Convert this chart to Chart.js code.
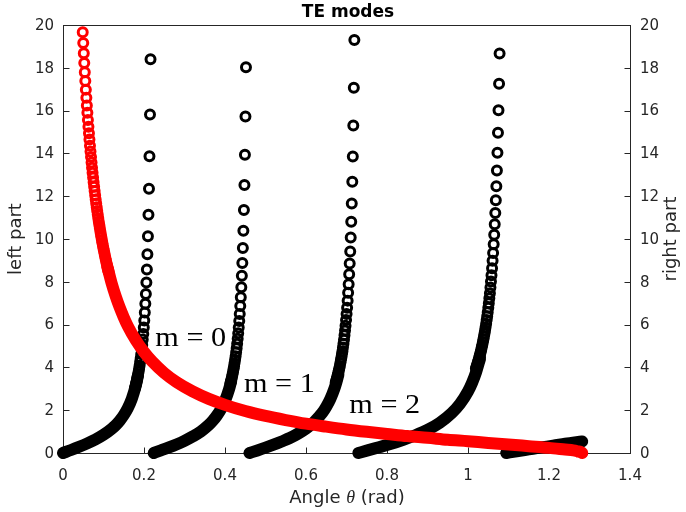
<!DOCTYPE html>
<html>
<head>
<meta charset="utf-8">
<script src="https://cdn.jsdelivr.net/npm/chart.js@4.4.1/dist/chart.umd.min.js"></script>
<style>
  html, body { margin: 0; padding: 0; background: #fff; }
  #wrap { width: 686px; height: 512px; }
</style>
</head>
<body>
<div id="wrap"><canvas id="teChart" width="686" height="512"></canvas></div>
<script>
// ---- values ----
// right part (red): separate rings at the top, then the solid band
var rightRingX = [0.0487, 0.0500, 0.0513, 0.0525, 0.0538, 0.0551, 0.0564, 0.0577, 0.0589, 0.0602,
  0.0615, 0.0628, 0.0641, 0.0653, 0.0666, 0.0679, 0.0692, 0.0705, 0.0717, 0.0730,
  0.0743, 0.0756, 0.0769, 0.0781, 0.0794, 0.0807, 0.0820, 0.0833, 0.0845, 0.0858,
  0.0871, 0.0884, 0.0897, 0.0909, 0.0922, 0.0935, 0.0948, 0.0961, 0.0973, 0.0986,
  0.0999, 0.1012, 0.1025, 0.1037, 0.1050, 0.1063, 0.1076, 0.1089, 0.1101, 0.1114, 0.1127];
var rightRingY = [19.66, 19.16, 18.68, 18.22, 17.79, 17.38, 16.98, 16.60, 16.24, 15.90,
  15.56, 15.24, 14.94, 14.65, 14.36, 14.09, 13.83, 13.58, 13.33, 13.10,
  12.87, 12.65, 12.44, 12.24, 12.04, 11.85, 11.66, 11.48, 11.31, 11.14,
  10.97, 10.81, 10.66, 10.51, 10.36, 10.22, 10.08, 9.94, 9.81, 9.68,
  9.56, 9.44, 9.32, 9.20, 9.09, 8.98, 8.87, 8.77, 8.66, 8.56, 8.46];
var rightBandX = [0.11, 0.12, 0.13, 0.14, 0.15, 0.16, 0.18, 0.20, 0.22, 0.25,
  0.28, 0.32, 0.36, 0.40, 0.45, 0.50, 0.55, 0.60, 0.65, 0.70,
  0.75, 0.80, 0.85, 0.90, 0.95, 1.00, 1.05, 1.10, 1.15, 1.20,
  1.24, 1.26, 1.27, 1.28, 1.282];
var rightBandY = [8.67, 7.94, 7.33, 6.80, 6.34, 5.93, 5.26, 4.72, 4.28, 3.74,
  3.32, 2.88, 2.53, 2.25, 1.96, 1.73, 1.54, 1.37, 1.23, 1.10,
  0.99, 0.89, 0.79, 0.71, 0.62, 0.55, 0.47, 0.40, 0.32, 0.24,
  0.16, 0.12, 0.08, 0.03, 0.00];

// left part (black), one branch per mode
var m0BandX = [0, 0.02, 0.04, 0.06, 0.08, 0.10, 0.12, 0.13, 0.14, 0.15, 0.16, 0.17, 0.18, 0.185];
var m0BandY = [0, 0.14, 0.29, 0.45, 0.63, 0.85, 1.13, 1.30, 1.51, 1.77, 2.10, 2.54, 3.17, 3.61];
var m0RingX = [0.2161, 0.2148, 0.2135, 0.2123, 0.2110, 0.2097, 0.2084, 0.2071, 0.2059, 0.2046,
  0.2033, 0.2020, 0.2007, 0.1995, 0.1982, 0.1969, 0.1956, 0.1943, 0.1931, 0.1918,
  0.1905, 0.1892, 0.1879, 0.1867, 0.1854, 0.1841, 0.1828, 0.1815, 0.1803, 0.1790, 0.1777];
var m0RingY = [18.40, 15.82, 13.87, 12.35, 11.13, 10.13, 9.29, 8.58, 7.97, 7.43,
  6.97, 6.56, 6.19, 5.86, 5.56, 5.30, 5.05, 4.83, 4.62, 4.43,
  4.26, 4.09, 3.94, 3.80, 3.67, 3.55, 3.43, 3.32, 3.22, 3.12, 3.03];

var m1BandX = [0.224, 0.24, 0.26, 0.28, 0.30, 0.32, 0.34, 0.36, 0.37, 0.38, 0.39, 0.40, 0.41, 0.415];
var m1BandY = [0, 0.11, 0.25, 0.40, 0.57, 0.77, 1.00, 1.31, 1.51, 1.75, 2.05, 2.44, 2.98, 3.34];
var m1RingX = [0.4518, 0.4505, 0.4492, 0.4480, 0.4467, 0.4454, 0.4441, 0.4428, 0.4416, 0.4403,
  0.4390, 0.4377, 0.4364, 0.4352, 0.4339, 0.4326, 0.4313, 0.4300, 0.4288, 0.4275,
  0.4262, 0.4249, 0.4236, 0.4224, 0.4211, 0.4198, 0.4185, 0.4172, 0.4160, 0.4147, 0.4134];
var m1RingY = [18.03, 15.72, 13.94, 12.52, 11.36, 10.39, 9.58, 8.88, 8.28, 7.75,
  7.28, 6.87, 6.50, 6.17, 5.86, 5.59, 5.34, 5.11, 4.90, 4.71,
  4.52, 4.36, 4.20, 4.05, 3.92, 3.79, 3.67, 3.55, 3.45, 3.35, 3.25];

var m2BandX = [0.4605, 0.48, 0.50, 0.52, 0.54, 0.56, 0.58, 0.60, 0.62, 0.64, 0.65, 0.66, 0.67, 0.675, 0.68];
var m2BandY = [0, 0.12, 0.25, 0.39, 0.54, 0.70, 0.90, 1.14, 1.45, 1.87, 2.16, 2.52, 3.00, 3.30, 3.66];
var m2RingX = [0.7194, 0.7181, 0.7168, 0.7156, 0.7143, 0.7130, 0.7117, 0.7104, 0.7092, 0.7079,
  0.7066, 0.7053, 0.7040, 0.7028, 0.7015, 0.7002, 0.6989, 0.6976, 0.6964, 0.6951,
  0.6938, 0.6925, 0.6912, 0.6900, 0.6887, 0.6874, 0.6861, 0.6848, 0.6836, 0.6823,
  0.6810, 0.6797, 0.6784, 0.6772, 0.6759, 0.6746, 0.6733];
var m2RingY = [19.30, 17.07, 15.30, 13.86, 12.67, 11.66, 10.81, 10.07, 9.42, 8.85,
  8.35, 7.89, 7.49, 7.12, 6.79, 6.49, 6.21, 5.95, 5.72, 5.50,
  5.29, 5.10, 4.93, 4.76, 4.61, 4.46, 4.33, 4.20, 4.07, 3.96,
  3.85, 3.75, 3.65, 3.55, 3.46, 3.38, 3.30];

var m3BandX = [0.7292, 0.75, 0.78, 0.81, 0.84, 0.87, 0.90, 0.93, 0.96, 0.98, 1.00, 1.01, 1.02, 1.03];
var m3BandY = [0, 0.11, 0.27, 0.43, 0.62, 0.83, 1.08, 1.41, 1.87, 2.29, 2.88, 3.28, 3.78, 4.43];
var m3RingX = [1.0780, 1.0767, 1.0753, 1.0740, 1.0727, 1.0714, 1.0700, 1.0687, 1.0674, 1.0660,
  1.0647, 1.0634, 1.0620, 1.0607, 1.0594, 1.0580, 1.0567, 1.0554, 1.0541, 1.0527,
  1.0514, 1.0501, 1.0487, 1.0474, 1.0461, 1.0448, 1.0434, 1.0421, 1.0408, 1.0394,
  1.0381, 1.0368, 1.0354, 1.0341, 1.0328, 1.0315, 1.0301, 1.0288, 1.0275, 1.0261,
  1.0248, 1.0235, 1.0221, 1.0208, 1.0195];
var m3RingY = [18.67, 17.25, 16.02, 14.96, 14.03, 13.20, 12.47, 11.81, 11.22, 10.69,
  10.20, 9.76, 9.35, 8.98, 8.63, 8.31, 8.01, 7.73, 7.47, 7.23,
  7.00, 6.79, 6.58, 6.39, 6.21, 6.04, 5.88, 5.73, 5.58, 5.44,
  5.31, 5.19, 5.06, 4.95, 4.84, 4.73, 4.63, 4.54, 4.44, 4.35,
  4.27, 4.18, 4.10, 4.02, 3.95];

var m4BandX = [1.0945, 1.12, 1.15, 1.18, 1.21, 1.24, 1.282];
var m4BandY = [0, 0.08, 0.17, 0.26, 0.34, 0.43, 0.54];

// annotations (x, baseline y in data units)
var modeLabels = ['m = 0', 'm = 1', 'm = 2'];
var modeLabelX = [0.228, 0.447, 0.707];
var modeLabelY = [4.99, 2.84, 1.85];

// ticks
var xTickVals = [0, 0.2, 0.4, 0.6, 0.8, 1, 1.2, 1.4];
var xTickLabels = ['0', '0.2', '0.4', '0.6', '0.8', '1', '1.2', '1.4'];
var yTickVals = [0, 2, 4, 6, 8, 10, 12, 14, 16, 18, 20];
var yTickLabels = ['0', '2', '4', '6', '8', '10', '12', '14', '16', '18', '20'];

var RED = '#ff0000';
var BLACK = '#000000';
var AXIS = '#262626';

function pts(xs, ys) {
  return xs.map(function (x, i) { return {x: x, y: ys[i]}; });
}

// open circle markers
function ringSet(xs, ys, color) {
  return {
    data: pts(xs, ys),
    showLine: false,
    pointStyle: 'circle',
    pointRadius: 4.5,
    pointHoverRadius: 4.5,
    pointBorderWidth: 3,
    pointBorderColor: color,
    pointBackgroundColor: 'rgba(0,0,0,0)',
    clip: false
  };
}

// where the markers are packed so tight they read as a solid band
function bandSet(xs, ys, color) {
  return {
    data: pts(xs, ys),
    showLine: true,
    borderColor: color,
    borderWidth: 12,
    borderCapStyle: 'round',
    borderJoinStyle: 'round',
    cubicInterpolationMode: 'monotone',
    pointRadius: 0,
    pointHoverRadius: 0,
    fill: false,
    clip: false
  };
}

var framePlugin = {
  id: 'frame',
  beforeDatasetsDraw: function (chart) {
    var ctx = chart.ctx;
    var a = chart.chartArea;
    var sx = chart.scales.x, sy = chart.scales.y;
    var L = Math.round(a.left) + 0.5, R = Math.round(a.right) + 0.5;
    var T = Math.round(a.top) + 0.5, B = Math.round(a.bottom) + 0.5;
    ctx.save();
    ctx.strokeStyle = AXIS;
    ctx.lineWidth = 1;
    ctx.strokeRect(L, T, R - L, B - T);
    ctx.beginPath();
    yTickVals.forEach(function (v) {
      var py = Math.round(sy.getPixelForValue(v)) + 0.5;
      ctx.moveTo(L, py); ctx.lineTo(L + 6, py);
      ctx.moveTo(R, py); ctx.lineTo(R - 6, py);
    });
    xTickVals.forEach(function (v) {
      var px = Math.round(sx.getPixelForValue(v)) + 0.5;
      ctx.moveTo(px, B); ctx.lineTo(px, B - 6);
    });
    ctx.stroke();

    // tick labels
    ctx.fillStyle = AXIS;
    ctx.font = '15px "DejaVu Sans"';
    ctx.textBaseline = 'alphabetic';
    ctx.textAlign = 'center';
    xTickVals.forEach(function (v, i) {
      ctx.fillText(xTickLabels[i], sx.getPixelForValue(v), 480);
    });
    ctx.textBaseline = 'middle';
    ctx.textAlign = 'right';
    yTickVals.forEach(function (v, i) {
      ctx.fillText(yTickLabels[i], a.left - 9, sy.getPixelForValue(v) + 1);
    });
    ctx.textAlign = 'left';
    yTickVals.forEach(function (v, i) {
      ctx.fillText(yTickLabels[i], a.right + 10, sy.getPixelForValue(v) + 1);
    });
    ctx.restore();
  },
  afterDraw: function (chart) {
    var ctx = chart.ctx;
    var sx = chart.scales.x, sy = chart.scales.y;
    ctx.save();
    // title
    ctx.fillStyle = BLACK;
    ctx.font = 'bold 17px "DejaVu Sans"';
    ctx.textAlign = 'center';
    ctx.textBaseline = 'alphabetic';
    ctx.fillText('TE modes', 348, 17);

    // x axis title with italic theta
    ctx.fillStyle = AXIS;
    var f1 = '18px "DejaVu Sans"', f2 = 'italic 18px "Liberation Serif"';
    ctx.font = f1;
    var w1 = ctx.measureText('Angle ').width, w3 = ctx.measureText(' (rad)').width;
    ctx.font = f2;
    var w2 = ctx.measureText('\u03b8').width;
    var x0 = 347 - (w1 + w2 + w3) / 2;
    ctx.textAlign = 'left';
    ctx.font = f1; ctx.fillText('Angle ', x0, 503);
    ctx.font = f2; ctx.fillText('\u03b8', x0 + w1, 503);
    ctx.font = f1; ctx.fillText(' (rad)', x0 + w1 + w2, 503);

    // y axis titles, both read bottom to top
    ctx.textAlign = 'center';
    ctx.save();
    ctx.translate(21, 239);
    ctx.rotate(-Math.PI / 2);
    ctx.fillText('left part', 0, 0);
    ctx.restore();
    ctx.save();
    ctx.translate(676, 239);
    ctx.rotate(-Math.PI / 2);
    ctx.fillText('right part', 0, 0);
    ctx.restore();

    // mode annotations
    ctx.fillStyle = BLACK;
    ctx.textAlign = 'left';
    ctx.font = '28px "Liberation Serif"';
    modeLabels.forEach(function (t, i) {
      ctx.save();
      ctx.translate(sx.getPixelForValue(modeLabelX[i]), sy.getPixelForValue(modeLabelY[i]));
      ctx.scale(1.08, 1);
      ctx.fillText(t, 0, 0);
      ctx.restore();
    });
    ctx.restore();
  }
};

// first dataset is painted last, so red goes on top
var datasets = [
  ringSet(rightRingX, rightRingY, RED),
  bandSet(rightBandX, rightBandY, RED),
  bandSet(m0BandX, m0BandY, BLACK), ringSet(m0RingX, m0RingY, BLACK),
  bandSet(m1BandX, m1BandY, BLACK), ringSet(m1RingX, m1RingY, BLACK),
  bandSet(m2BandX, m2BandY, BLACK), ringSet(m2RingX, m2RingY, BLACK),
  bandSet(m3BandX, m3BandY, BLACK), ringSet(m3RingX, m3RingY, BLACK),
  bandSet(m4BandX, m4BandY, BLACK)
];

var hidden = { display: false };

new Chart(document.getElementById('teChart'), {
  type: 'scatter',
  data: { datasets: datasets },
  options: {
    responsive: false,
    animation: false,
    events: [],
    layout: { padding: { top: 25, left: 0, right: 0, bottom: 0 } },
    plugins: { legend: hidden, tooltip: { enabled: false }, title: hidden },
    scales: {
      x: {
        type: 'linear', min: 0, max: 1.4,
        ticks: { display: false, stepSize: 0.2 },
        grid: hidden, border: hidden,
        afterFit: function (s) { s.height = 59; }
      },
      y: {
        type: 'linear', position: 'left', min: 0, max: 20,
        ticks: { display: false, stepSize: 2 },
        grid: hidden, border: hidden,
        afterFit: function (s) { s.width = 63; }
      },
      y2: {
        type: 'linear', position: 'right', min: 0, max: 20,
        ticks: { display: false, stepSize: 2 },
        grid: hidden, border: hidden,
        afterFit: function (s) { s.width = 56; }
      }
    }
  },
  plugins: [framePlugin]
});
</script>
</body>
</html>
